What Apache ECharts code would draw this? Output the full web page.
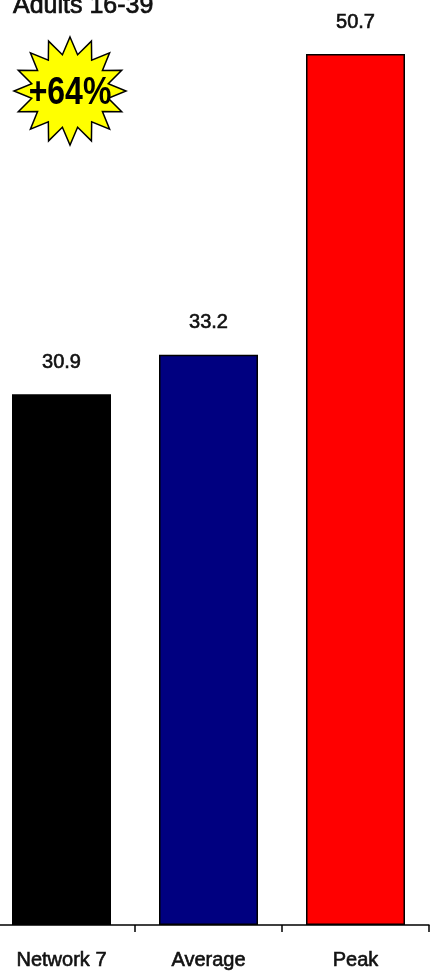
<!DOCTYPE html>
<html><head><meta charset="utf-8">
<script src="https://cdn.jsdelivr.net/npm/echarts@6/dist/echarts.min.js"></script>
<style>html,body{margin:0;padding:0;background:#fff;overflow:hidden}#c{position:absolute;left:-12px;top:0;width:443px;height:978px}</style>
</head><body><div id="c"></div>
<script>
const categories = ['Network 7', 'Average', 'Peak'];
const values = [30.9, 33.2, 50.7];
const barColors = ['#000000', '#000080', '#ff0000'];
const titleText = 'Adults 16-39';
const badgeText = '+64%';
const FONT = '"Liberation Sans", Arial, sans-serif';

function starPoints(cx, cy, rx, ry, irx, iry, n) {
  const pts = [];
  for (let i = 0; i < n * 2; i++) {
    const a = -Math.PI / 2 + i * Math.PI / n;
    const outer = i % 2 === 0;
    pts.push([cx + Math.cos(a) * (outer ? rx : irx), cy + Math.sin(a) * (outer ? ry : iry)]);
  }
  return pts;
}

const chart = echarts.init(document.getElementById('c'));
chart.setOption({
  animation: false,
  grid: { left: 0, right: 2, top: 54, bottom: 53, containLabel: false },
  xAxis: {
    type: 'category',
    data: categories,
    axisLine: { lineStyle: { color: '#000', width: 1.5 } },
    axisTick: { show: true, length: 7, lineStyle: { color: '#000', width: 1.5 } },
    axisLabel: { color: '#111', fontFamily: FONT, fontSize: 20, margin: 25, textBorderColor: '#111', textBorderWidth: 0.6 }
  },
  yAxis: { type: 'value', min: 0, max: 50.7, show: false, splitLine: { show: false } },
  series: [{
    type: 'bar',
    barWidth: 99,
    data: values.map((v, i) => ({ value: v, itemStyle: { color: barColors[i] } })),
    itemStyle: { borderColor: '#000', borderWidth: 1.5 },
    label: { show: true, position: 'top', distance: 22, color: '#111', fontFamily: FONT, fontSize: 20, textBorderColor: '#111', textBorderWidth: 0.6 }
  }],
  graphic: [
    { type: 'text', x: 25, y: 6, style: { text: titleText, font: '25px ' + FONT, fill: '#111', align: 'left', verticalAlign: 'middle', stroke: '#111', lineWidth: 0.7 } },
    { type: 'polygon', shape: { points: starPoints(82, 91, 56, 54, 39, 37, 16) }, style: { fill: '#ffff00', stroke: '#000', lineWidth: 1.5 } },
    { type: 'text', x: 82, y: 93, scaleX: 0.82, style: { text: badgeText, font: 'bold 39px ' + FONT, fill: '#000', align: 'center', verticalAlign: 'middle' } }
  ]
});
</script></body></html>
